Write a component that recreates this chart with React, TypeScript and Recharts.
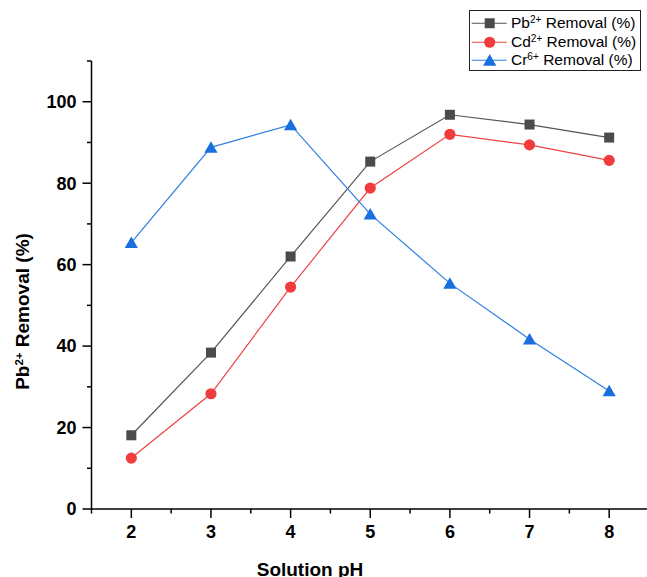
import {LineChart, Line, XAxis, YAxis, Legend, Label} from "recharts";

const phValues = [2, 3, 4, 5, 6, 7, 8];
const pbRemoval = [18.1, 38.4, 62.0, 85.3, 96.8, 94.4, 91.2];
const cdRemoval = [12.5, 28.3, 54.5, 78.8, 92.0, 89.4, 85.6];
const crRemoval = [65.4, 88.8, 94.3, 72.4, 55.4, 41.7, 29.0];

const xTicks = [1.5, 2, 2.5, 3, 3.5, 4, 4.5, 5, 5.5, 6, 6.5, 7, 7.5, 8, 8.5];
const yTicks = [0, 10, 20, 30, 40, 50, 60, 70, 80, 90, 100, 110];

const data = phValues.map((ph, i) => ({
  ph,
  pb: pbRemoval[i],
  cd: cdRemoval[i],
  cr: crRemoval[i],
}));

const FONT = "'Liberation Sans', Arial, sans-serif";

const series = [
  {key: "pb", ion: "Pb", charge: "2+", line: "#555555", fill: "#4b4b4b", shape: "square"},
  {key: "cd", ion: "Cd", charge: "2+", line: "#ee4444", fill: "#f03c3c", shape: "circle"},
  {key: "cr", ion: "Cr", charge: "6+", line: "#2f7fe2", fill: "#1a6fdf", shape: "triangle"},
];

const marker = (shape: string, fill: string, cx: number, cy: number, key?: any) => {
  if (shape === "square") return <rect key={key} x={cx - 5} y={cy - 5} width={10} height={10} fill={fill} />;
  if (shape === "circle") return <circle key={key} cx={cx} cy={cy} r={5.6} fill={fill} />;
  return (
    <polygon
      key={key}
      points={`${cx},${cy - 6.2} ${cx + 6.6},${cy + 5.4} ${cx - 6.6},${cy + 5.4}`}
      fill={fill}
    />
  );
};

const YTick = (props: any) => {
  const {x, y, payload} = props;
  const v = payload.value;
  const major = v % 20 === 0 && v <= 100;
  return (
    <g>
      <line x1={x - (major ? 9 : 4.5)} x2={x} y1={y} y2={y} stroke="#000" strokeWidth={1.5} />
      {major && (
        <text x={x - 15} y={y + 6.4} textAnchor="end" fontFamily={FONT} fontWeight="bold" fontSize={18} fill="#000">
          {v}
        </text>
      )}
    </g>
  );
};

const XTick = (props: any) => {
  const {x, y, payload} = props;
  const v = payload.value;
  const major = Number.isInteger(v);
  return (
    <g>
      <line x1={x} x2={x} y1={y} y2={y + (major ? 9 : 4.5)} stroke="#000" strokeWidth={1.5} />
      {major && (
        <text x={x} y={y + 29} textAnchor="middle" fontFamily={FONT} fontWeight="bold" fontSize={18} fill="#000">
          {v}
        </text>
      )}
    </g>
  );
};

const YTitle = (props: any) => {
  const vb = props.viewBox || {x: 0, y: 61, width: 91.5, height: 448};
  const cx = vb.x + 28.5;
  const cy = vb.y + vb.height / 2 + 26.5;
  return (
    <text
      x={cx}
      y={cy}
      transform={`rotate(-90, ${cx}, ${cy})`}
      textAnchor="middle"
      fontFamily={FONT}
      fontWeight="bold"
      fontSize={19}
      fill="#000"
    >
      Pb
      <tspan baselineShift="super" fontSize={11.5}>2+</tspan>
      <tspan> Removal (%)</tspan>
    </text>
  );
};

const XTitle = (props: any) => {
  const vb = props.viewBox || {x: 91.5, y: 509, width: 557.5, height: 68};
  return (
    <text
      x={vb.x + 218.5}
      y={vb.y + 67}
      textAnchor="middle"
      fontFamily={FONT}
      fontWeight="bold"
      fontSize={19}
      fill="#000"
    >
      Solution pH
    </text>
  );
};

const LegendBox = () => (
  <div
    style={{
      border: "1px solid #222",
      background: "#fff",
      width: 170,
      paddingTop: 3,
      fontFamily: FONT,
      fontSize: 15.5,
      color: "#000",
      lineHeight: "18.5px",
    }}
  >
    {series.map((s) => (
      <div key={s.key} style={{display: "flex", alignItems: "center", height: 18.5, whiteSpace: "nowrap"}}>
        <svg width={41} height={18.5} style={{display: "block"}}>
          <line x1={1.7} x2={36.7} y1={9.25} y2={9.25} stroke={s.line} strokeWidth={1.2} />
          {marker(s.shape, s.fill, 19.7, 9.25)}
        </svg>
        <span>
          {s.ion}
          <sup style={{fontSize: "65%", verticalAlign: "0.5em", lineHeight: 0}}>{s.charge}</sup> Removal (%)
        </span>
      </div>
    ))}
  </div>
);

export default function App() {
  return (
    <div style={{position: "absolute", left: 0, top: 0, width: 647, height: 577, overflow: "hidden", background: "#fff"}}>
      <LineChart width={649} height={577} data={data} margin={{top: 61, right: 0, bottom: 0, left: 0}}>
        <XAxis
          dataKey="ph"
          type="number"
          domain={[1.5, 8.5]}
          ticks={xTicks}
          interval={0}
          height={68}
          tickSize={0}
          tickMargin={0}
          tickLine={false}
          tick={<XTick />}
          axisLine={{stroke: "#000", strokeWidth: 1.5}}
        >
          <Label content={<XTitle />} />
        </XAxis>
        <YAxis
          type="number"
          domain={[0, 110]}
          ticks={yTicks}
          interval={0}
          width={91.5}
          tickSize={0}
          tickMargin={0}
          tickLine={false}
          tick={<YTick />}
          axisLine={{stroke: "#000", strokeWidth: 1.5}}
        >
          <Label content={<YTitle />} />
        </YAxis>
        <Legend
          layout="vertical"
          align="center"
          verticalAlign="middle"
          content={<LegendBox />}
          wrapperStyle={{left: 469, top: 10, width: 172, height: 61}}
        />
        {series.map((s) => (
          <Line
            key={s.key}
            dataKey={s.key}
            type="linear"
            stroke={s.line}
            strokeWidth={1.2}
            isAnimationActive={false}
            dot={(p: any) => marker(s.shape, s.fill, p.cx, p.cy, p.index)}
            activeDot={false}
          />
        ))}
      </LineChart>
    </div>
  );
}
